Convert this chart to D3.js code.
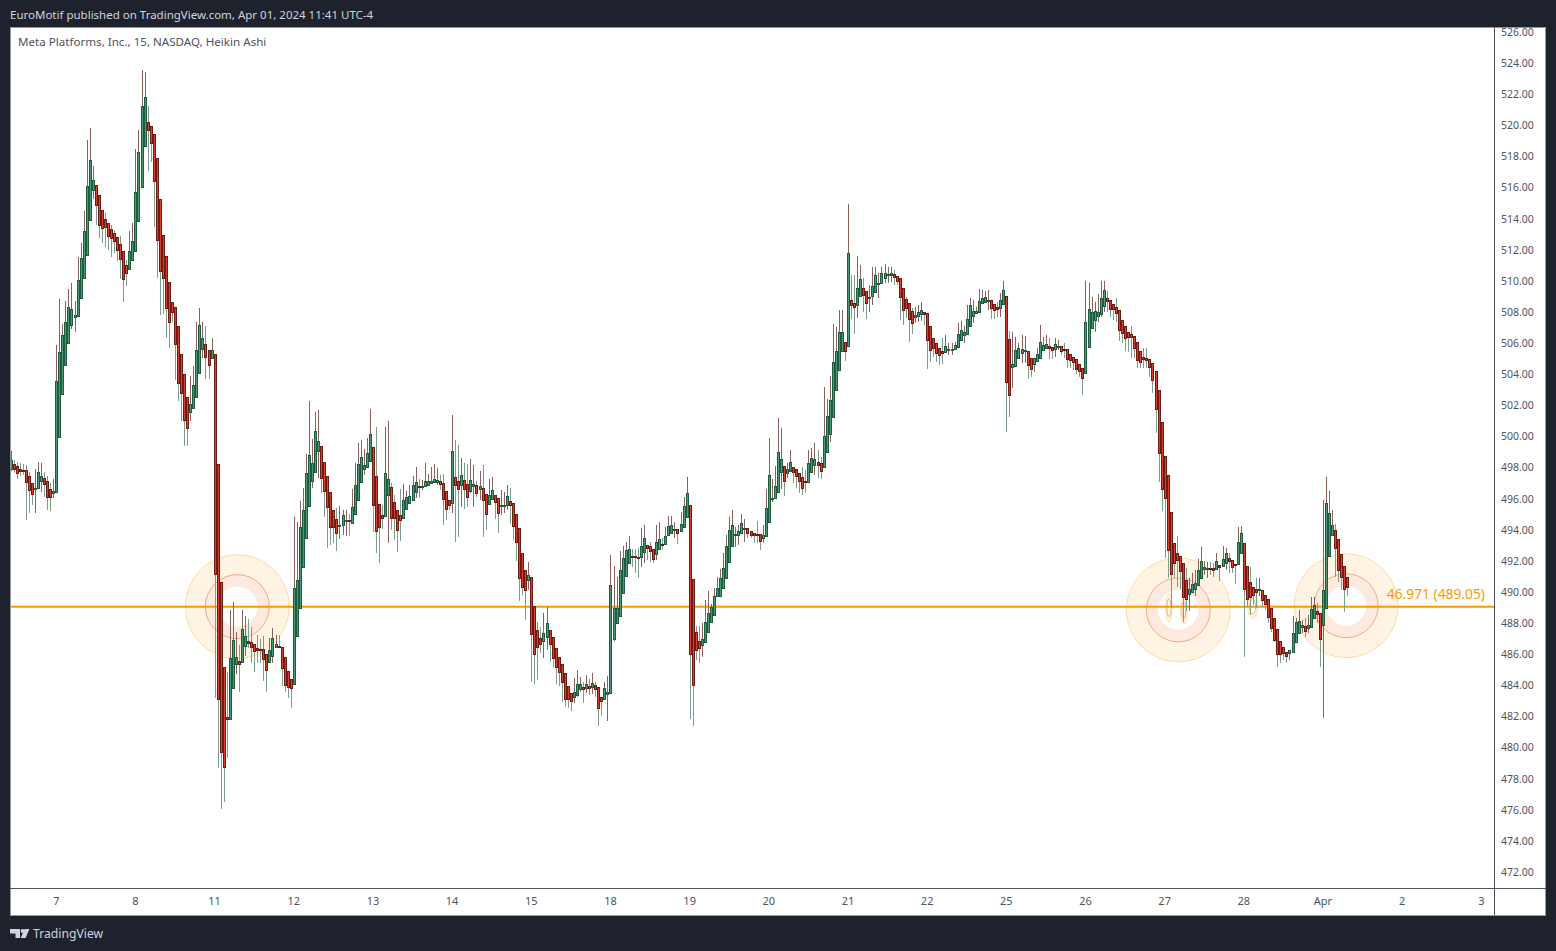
<!DOCTYPE html>
<html>
<head>
<meta charset="utf-8">
<script src="https://cdn.jsdelivr.net/npm/d3@7"></script>
<style>
html,body{margin:0;padding:0;background:#1e222d;overflow:hidden}
text{font-family:"Noto Sans",sans-serif}
</style>
</head>
<body>
<svg id="c" width="1556" height="951"></svg>
<script>
// each row: [open, close, high, low]
const mar06 = [[497.91,498.49,499.07,497.78],[498.23,497.91,498.49,497.66],[498.10,497.66,498.36,497.27],[497.91,497.78,498.30,497.46],[497.85,497.78,498.23,497.53],[497.85,497.08,498.17,494.63],[497.46,496.56,497.72,495.08],[497.01,496.31,497.01,495.60],[496.63,496.69,497.91,495.08],[496.69,497.72,498.36,496.69],[497.14,497.46,498.30,496.43],[497.33,496.95,497.72,496.11],[497.14,496.11,497.46,495.28],[496.63,496.11,497.01,495.21],[496.37,496.50,497.27,496.05]];
const mar07 = [[496.43,503.57,505.88,496.43],[499.97,505.43,508.84,499.97],[502.73,506.53,507.23,502.73],[504.60,507.36,508.71,504.60],[506.01,508.33,509.48,506.01],[507.17,508.20,509.87,506.91],[507.68,507.81,508.71,506.72],[507.75,510.06,511.54,507.75],[508.90,511.48,512.44,508.90],[510.19,513.21,514.50,510.19],[511.67,516.10,519.06,511.67],[513.92,517.77,519.83,513.92],[515.85,516.49,517.39,515.27],[516.17,514.88,516.17,513.60],[515.53,513.60,515.53,512.76],[514.56,513.40,514.56,512.44],[513.98,513.47,514.37,512.18],[513.73,512.89,513.73,511.99],[513.34,512.76,513.60,511.54],[513.08,512.57,513.27,511.79],[512.83,511.99,512.83,511.28],[512.38,511.41,512.89,510.13],[511.93,510.13,511.93,508.65],[511.03,510.51,511.35,509.68],[510.77,511.93,513.21,510.77],[511.35,512.57,513.73,511.35]];
const mar08 = [[511.93,515.72,518.48,511.93],[513.85,518.29,519.70,513.85],[516.04,521.25,523.56,516.04],[518.67,521.82,523.43,518.67],[520.22,519.70,521.25,517.07],[519.96,518.87,519.96,517.65],[519.45,516.43,519.45,513.47],[517.90,512.63,517.90,510.19],[515.27,510.64,515.27,507.81],[512.95,510.19,512.95,507.88],[511.60,508.26,511.60,506.33],[509.93,507.36,509.93,505.69],[508.65,508.00,508.65,507.36],[508.33,505.95,508.33,503.63],[507.10,503.44,507.10,502.28],[505.30,502.80,505.30,501.00],[504.02,501.06,504.02,499.39],[502.54,500.55,502.54,499.39],[501.58,502.09,503.89,501.00],[501.83,503.31,504.53,501.83],[502.54,505.56,507.36,502.54],[504.08,507.17,508.26,504.08],[505.63,506.33,507.36,505.05],[505.95,505.11,507.10,503.70],[505.56,504.60,505.56,503.70],[505.05,505.56,506.33,505.05]];
const mar11 = [[505.30,491.16,505.30,483.19],[498.23,483.13,498.23,478.69],[490.65,479.72,490.65,476.06],[485.18,478.76,485.18,476.51],[481.97,481.84,484.86,479.34],[481.84,485.76,488.85,481.84],[483.84,486.92,489.36,483.84],[485.38,485.83,487.43,484.74],[485.57,485.38,486.60,483.58],[485.51,487.63,488.85,485.51],[486.53,487.18,488.46,485.89],[486.85,486.73,488.27,486.41],[486.79,486.47,487.76,485.44],[486.66,486.21,486.66,484.86],[486.41,486.28,487.24,485.44],[486.34,486.28,486.98,485.44],[486.34,485.70,487.18,484.29],[486.02,484.99,486.02,483.58],[485.51,486.28,487.05,485.51],[485.89,487.05,487.69,485.44],[486.47,486.66,487.24,486.47],[486.53,486.47,487.24,486.47],[486.47,485.12,486.47,483.96],[485.83,484.03,485.83,483.58],[484.93,483.90,484.93,483.19],[484.41,483.84,484.41,482.55]];
const mar12 = [[484.09,490.26,494.83,484.09],[487.18,490.78,494.51,487.18],[488.98,494.18,495.86,488.98],[491.61,495.28,496.69,491.61],[493.48,497.66,498.88,493.48],[495.53,498.81,502.28,495.53],[497.14,498.30,499.84,496.69],[497.72,500.35,501.58,497.72],[499.07,499.71,501.71,497.33],[499.39,497.33,499.39,496.37],[498.36,496.50,498.36,494.83],[497.46,495.47,497.46,492.83],[496.43,494.18,496.43,493.03],[495.28,494.18,495.28,493.16],[494.70,493.80,495.41,492.64],[494.25,494.31,495.53,493.41],[494.31,494.96,495.28,493.67],[494.57,494.63,495.28,493.61],[494.63,494.57,495.02,493.61],[494.44,495.47,496.63,494.44],[495.02,496.88,498.30,495.02],[495.92,498.23,499.58,495.92],[497.08,498.68,499.78,497.08],[497.91,498.17,499.20,497.53],[498.04,498.94,499.90,498.04],[498.43,500.16,501.77,498.43]];
const mar13 = [[499.33,495.60,499.33,493.86],[497.46,493.93,500.61,492.51],[495.66,494.18,495.66,491.87],[494.96,494.76,495.60,494.06],[494.89,497.66,500.61,494.89],[496.24,497.27,501.00,493.16],[496.76,494.76,497.01,493.99],[495.79,494.76,496.24,493.35],[495.28,493.99,495.28,492.58],[494.96,494.63,496.63,493.28],[494.76,495.92,496.95,494.76],[495.34,496.11,496.50,495.34],[495.73,496.18,496.88,495.73],[495.92,496.88,497.46,495.92],[496.43,497.08,498.04,496.05],[496.82,496.76,497.27,496.05],[496.76,496.82,497.20,496.56],[496.82,497.14,498.30,496.82],[496.88,497.14,497.59,496.88],[497.01,497.14,498.04,497.01],[497.08,497.27,498.23,497.08],[497.08,497.20,497.98,496.88],[497.14,496.95,497.53,496.56],[497.01,495.98,497.59,494.31],[496.50,495.34,496.50,494.63],[495.92,495.60,495.92,495.28]];
const mar14 = [[495.73,499.07,501.38,495.08],[497.40,496.88,499.78,493.22],[497.14,496.63,499.46,493.54],[496.88,497.53,498.62,495.47],[497.21,496.63,498.30,495.34],[496.95,496.11,498.23,495.47],[496.50,497.21,498.55,496.37],[496.82,496.95,498.17,495.47],[496.88,496.37,497.14,496.11],[496.63,496.82,497.78,495.92],[496.69,495.92,498.17,493.54],[496.31,495.02,496.31,493.99],[495.66,496.24,497.27,495.66],[495.98,496.56,497.40,495.92],[496.24,495.79,496.24,494.70],[496.05,495.08,496.05,493.80],[495.53,495.60,496.56,494.96],[495.53,495.60,496.43,495.08],[495.60,496.18,496.88,495.28],[495.86,495.60,496.69,494.38],[495.73,494.25,495.73,493.35],[495.02,493.22,495.02,491.99],[494.12,490.91,494.12,489.43],[492.51,490.33,492.51,489.81],[491.42,490.14,491.42,488.21],[490.78,491.10,491.93,490.14]];
const mar15 = [[490.97,487.30,490.97,484.22],[489.10,486.02,489.10,484.09],[487.56,486.47,488.08,484.35],[487.05,486.66,487.76,486.08],[486.85,487.37,488.66,485.76],[487.11,488.01,489.04,486.28],[487.56,486.66,487.56,485.51],[487.11,485.76,487.11,485.18],[486.41,485.18,486.41,484.09],[485.83,484.86,485.83,483.96],[485.38,484.22,485.38,482.93],[484.80,483.13,484.80,482.62],[483.96,483.13,483.96,482.55],[483.51,483.00,483.51,482.36],[483.26,483.58,484.48,482.87],[483.39,484.09,484.99,483.26],[483.77,484.09,484.54,483.58],[483.90,483.77,484.22,482.87],[483.84,484.09,484.67,483.51],[483.96,483.84,484.41,483.39],[483.90,484.16,484.80,483.45],[484.03,483.77,484.22,483.26],[483.90,482.55,483.90,481.39],[483.26,483.00,483.26,482.03],[483.13,483.84,484.22,483.13],[483.45,483.58,484.61,481.71]];
const mar18 = [[483.51,490.46,492.38,483.51],[486.98,488.98,491.68,486.85],[488.01,488.98,490.97,488.01],[488.46,491.42,492.64,488.46],[489.94,492.19,492.96,489.94],[491.03,492.71,493.22,491.03],[491.87,492.77,493.61,491.87],[492.32,492.25,492.77,491.61],[492.32,492.25,492.77,491.23],[492.25,492.19,492.83,490.91],[492.25,492.96,494.12,491.61],[492.58,493.48,494.31,491.87],[493.03,492.83,493.03,492.06],[492.96,492.64,493.22,491.93],[492.77,492.13,492.77,491.87],[492.45,493.22,494.31,492.06],[492.77,493.41,494.50,492.77],[493.09,493.03,493.48,492.77],[493.09,493.61,494.18,493.09],[493.67,494.25,494.89,493.67],[493.80,494.31,494.89,493.80],[493.99,494.06,494.50,493.48],[494.06,493.80,494.06,493.09],[493.93,494.38,495.15,493.93],[494.18,495.53,496.11,494.18],[494.83,496.37,497.40,494.83]];
const mar19 = [[495.60,486.02,495.60,481.84],[490.84,484.03,490.84,481.39],[487.43,486.28,487.82,485.63],[486.85,486.41,487.82,485.44],[486.60,486.98,488.01,485.83],[486.79,488.08,489.49,486.79],[487.43,488.66,490.07,487.43],[488.08,489.04,489.23,488.08],[488.53,489.75,490.26,488.53],[489.75,490.26,490.97,489.75],[489.75,490.91,491.48,489.75],[490.26,491.55,492.51,490.26],[490.91,492.96,493.67,490.91],[491.93,493.99,494.83,491.93],[492.96,494.31,495.28,492.96],[493.67,493.73,494.18,492.90],[493.67,493.93,494.31,493.03],[493.80,494.44,495.02,493.80],[494.06,494.12,494.70,493.22],[494.12,493.80,494.12,493.48],[493.93,493.67,493.93,493.48],[493.80,493.67,493.80,493.16],[493.73,493.67,494.57,493.16],[493.73,493.28,493.73,492.71],[493.48,493.67,494.31,493.16],[493.61,495.41,496.63,493.61]];
const mar20 = [[494.50,497.53,499.90,494.50],[495.98,496.05,497.27,495.79],[496.05,496.82,498.10,496.05],[496.43,499.00,501.19,496.43],[497.72,498.55,500.55,496.63],[498.10,497.14,498.10,496.18],[497.66,497.91,498.30,497.33],[497.78,498.36,499.13,497.78],[498.04,497.72,498.04,497.01],[497.91,497.46,497.91,496.69],[497.66,497.14,497.66,496.37],[497.40,496.69,498.04,496.24],[497.14,497.08,497.85,496.37],[497.08,498.30,499.13,497.08],[497.72,498.62,499.26,497.72],[498.17,498.55,499.58,497.53],[498.36,498.17,499.13,497.33],[498.30,497.78,498.68,497.27],[498.04,500.03,503.18,498.04],[499.00,501.32,502.41,499.00],[500.16,502.35,503.89,499.65],[501.26,504.79,507.23,501.26],[502.99,505.50,507.04,502.99],[504.28,506.72,508.13,504.28],[505.50,506.72,508.13,505.50],[506.08,505.50,506.08,504.85]];
const mar21 = [[505.82,511.80,514.95,505.82],[508.78,508.45,510.38,507.55],[508.58,508.33,510.38,506.59],[508.45,509.55,511.60,507.62],[509.03,510.13,511.03,509.03],[509.55,509.10,510.19,508.00],[509.35,508.58,509.35,507.55],[508.90,508.97,509.74,508.00],[509.03,509.68,510.90,508.45],[509.29,510.38,510.90,509.29],[509.80,509.87,510.51,508.90],[509.87,510.51,510.90,509.87],[510.19,510.51,511.09,509.87],[510.38,510.45,510.90,509.87],[510.38,510.51,510.90,509.93],[510.45,510.26,510.70,509.74],[510.32,510.00,510.32,509.74],[510.19,508.97,510.19,507.49],[509.55,508.13,509.55,507.17],[508.84,508.26,508.97,507.62],[508.58,507.55,508.58,506.08],[508.07,507.30,508.26,506.59],[507.68,507.81,508.33,507.30],[507.75,508.00,508.45,507.36],[507.88,508.13,508.65,507.43],[508.00,507.88,508.00,507.17]];
const mar22 = [[507.94,506.20,507.94,504.34],[507.10,505.56,507.10,504.79],[506.33,505.69,506.33,505.11],[506.01,505.37,506.01,504.79],[505.69,505.24,505.69,504.60],[505.50,505.37,506.33,504.66],[505.43,505.82,506.53,505.43],[505.56,505.63,506.01,505.24],[505.56,505.63,506.01,505.24],[505.63,505.88,506.08,505.63],[505.75,506.59,507.30,505.75],[506.20,506.85,507.43,506.20],[506.53,506.72,507.10,506.01],[506.59,507.55,508.45,506.59],[507.10,508.45,508.90,507.10],[507.75,508.07,508.78,507.30],[507.94,508.07,508.33,507.88],[508.00,508.71,509.48,508.00],[508.58,508.90,509.42,508.58],[508.65,508.97,509.35,508.65],[508.71,508.78,509.42,508.13],[508.78,508.26,508.78,507.55],[508.52,508.13,508.52,507.55],[508.33,508.20,508.65,507.68],[508.26,508.78,509.22,507.68],[508.52,509.42,510.00,508.52]];
const mar25 = [[509.03,503.50,509.03,500.29],[506.27,502.67,506.78,501.25],[504.47,504.66,506.72,503.12],[504.53,505.56,506.40,504.53],[505.05,505.69,506.01,505.05],[505.37,505.63,506.53,504.73],[505.50,505.56,506.46,504.73],[505.50,504.60,505.50,503.70],[505.05,504.34,505.05,503.83],[504.66,505.05,505.05,504.15],[504.85,505.30,505.69,504.85],[505.05,506.08,507.17,505.05],[505.56,505.88,506.40,505.56],[505.69,505.95,506.53,505.69],[505.82,505.69,506.33,504.98],[505.75,505.56,505.75,504.98],[505.63,505.95,506.33,505.11],[505.75,505.82,506.20,505.56],[505.82,505.50,505.82,505.24],[505.63,505.56,506.01,505.05],[505.63,504.98,505.63,504.40],[505.30,504.92,505.30,504.40],[505.11,504.79,505.11,504.27],[504.98,504.34,504.98,504.02],[504.66,504.21,504.66,503.83],[504.40,503.76,504.40,502.67]];
const mar26 = [[504.08,507.36,510.00,504.08],[505.76,508.20,509.87,505.76],[506.98,508.00,508.97,506.98],[507.49,508.07,508.65,506.72],[507.75,508.00,509.16,507.36],[507.88,508.90,510.00,507.68],[508.39,509.42,510.00,508.00],[508.90,508.71,509.35,508.00],[508.78,508.20,508.78,507.68],[508.52,508.20,508.52,507.49],[508.33,507.94,508.90,507.36],[508.13,506.85,508.13,506.14],[507.49,506.65,507.49,506.01],[507.10,506.33,507.10,505.50],[506.72,506.40,506.72,505.43],[506.59,506.40,507.10,505.05],[506.46,505.69,506.46,505.05],[506.08,504.92,506.08,504.40],[505.50,504.79,505.50,504.40],[505.11,504.98,505.69,504.40],[505.05,504.92,505.69,504.40],[504.98,504.47,504.98,503.83],[504.72,503.63,504.72,502.80],[504.21,501.77,504.21,500.23],[502.99,498.94,502.99,497.08],[500.93,496.63,500.93,495.21]];
const mar27 = [[498.75,496.05,498.75,492.19],[497.53,492.71,497.53,490.91],[495.15,491.16,495.15,488.98],[493.16,491.87,493.16,490.91],[492.51,492.06,493.61,490.33],[492.32,491.35,492.32,490.20],[491.87,489.69,491.87,488.08],[490.78,489.56,491.55,488.77],[489.88,490.20,490.91,488.79],[490.01,490.52,491.23,490.01],[490.20,490.58,491.42,489.75],[490.46,491.42,492.13,490.46],[490.91,491.99,492.90,490.91],[491.48,491.61,491.99,491.10],[491.48,491.55,491.93,490.91],[491.55,491.48,491.93,491.10],[491.55,491.42,491.87,490.97],[491.48,491.99,492.51,491.48],[491.74,491.61,491.74,490.71],[491.68,492.13,492.96,491.68],[491.87,492.51,492.83,491.42],[492.19,491.99,492.51,491.23],[492.06,491.61,492.06,491.23],[491.80,491.74,491.80,490.52],[491.80,493.22,494.18,491.80],[492.51,493.80,494.25,492.51]];
const mar28 = [[493.16,490.20,493.16,485.83],[491.68,489.56,491.68,489.04],[490.65,489.69,491.61,488.53],[490.33,489.81,490.33,489.17],[490.20,490.01,490.91,488.98],[490.13,490.20,490.91,489.75],[490.13,489.49,490.13,489.04],[489.81,489.23,489.81,488.85],[489.56,488.40,489.56,488.01],[488.98,487.69,488.98,487.43],[488.33,486.92,488.33,486.79],[487.63,486.02,487.63,485.18],[486.85,486.02,486.85,485.44],[486.47,486.08,486.47,485.63],[486.15,485.89,486.15,485.44],[486.08,486.28,486.28,485.63],[486.15,487.37,488.46,486.15],[486.79,488.08,488.33,486.79],[487.37,488.14,488.85,487.37],[487.76,487.88,488.21,487.37],[487.82,487.50,488.33,487.11],[487.69,487.88,488.53,487.37],[487.76,488.91,489.68,487.76],[488.33,489.17,489.68,488.33],[488.78,488.59,489.30,488.01],[488.66,486.98,488.66,485.18]];
const apr01 = [[487.88,490.13,495.92,481.91],[488.98,495.73,497.40,488.98],[492.32,495.08,496.50,492.32],[493.67,494.31,495.28,493.67],[493.99,492.83,494.38,490.97],[493.41,491.42,493.41,490.65],[492.45,490.97,492.45,490.14],[491.68,490.20,491.68,488.72],[490.97,490.33,490.97,489.75]];

const dayLabels = ["7","8","11","12","13","14","15","18","19","20","21","22","25","26","27","28","Apr","2","3"];
const dayBarIndex = [15,41,67,93,119,145,171,197,223,249,275,301,327,353,379,405,431,457,483];
const priceTicks = [472,474,476,478,480,482,484,486,488,490,492,494,496,498,500,502,504,506,508,510,512,514,516,518,520,522,524,526];
const levelPrice = 489.05;
const levelText = "46.971 (489.05)";
const headerText = "EuroMotif published on TradingView.com, Apr 01, 2024 11:41 UTC-4";
const titleText = "Meta Platforms, Inc., 15, NASDAQ, Heikin Ashi";
// annotation anchors: bar position, price
const bigRings = [[74.45,489.06],[383.5,488.85],[438.6,489.12]];
const smallRings = [[380.4,488.99,3.3,14],[385.3,488.85,3.3,14],[407.9,489.06,5,12]];

const bars = [].concat(mar06,mar07,mar08,mar11,mar12,mar13,mar14,mar15,mar18,mar19,mar20,mar21,mar22,mar25,mar26,mar27,mar28,apr01)
  .map((r,i)=>({i,o:r[0],c:r[1],h:r[2],l:r[3]}));

const svg = d3.select("#c");
const L=10,T=27,R=1546,B=916,PR=1494.5,PB=888.5;
const x = d3.scaleLinear().domain([0,493]).range([10.6,10.6+3.045*493]);
const y = d3.scaleLinear().domain([472,526]).range([872,32]);
const snap = v=>Math.round(v)+0.5;

svg.append("rect").attr("x",L+.5).attr("y",T+.5).attr("width",R-L-1).attr("height",B-T-1)
  .attr("fill","#fff").attr("stroke","#9598a1");
svg.append("text").attr("x",10).attr("y",19).attr("fill","#d1d4dc").attr("font-size",11.5).text(headerText);

const defs = svg.append("defs");
defs.append("clipPath").attr("id","plot").append("rect")
  .attr("x",L+1).attr("y",T+1).attr("width",PR-L-1).attr("height",PB-T-1);
const plot = svg.append("g").attr("clip-path","url(#plot)");

// rings
const fullArc = (a,b)=>d3.arc().innerRadius(a).outerRadius(b).startAngle(0).endAngle(2*Math.PI)();
const ring = plot.append("g").selectAll("g").data(bigRings).join("g")
  .attr("transform",d=>`translate(${x(d[0])},${y(d[1])})`);
ring.append("path").attr("fill","#ff9800").attr("fill-opacity",.11).attr("d",fullArc(32,52));
ring.append("path").attr("fill","#f57c3c").attr("fill-opacity",.17).attr("d",fullArc(20,32));
ring.append("circle").attr("r",52).attr("fill","none").attr("stroke","#ff9800").attr("stroke-opacity",.3);
ring.append("circle").attr("r",32).attr("fill","none").attr("stroke","#ee7b45").attr("stroke-opacity",.6);
const sm = plot.append("g").selectAll("g").data(smallRings).join("g")
  .attr("transform",d=>`translate(${x(d[0])},${y(d[1])})`);
sm.append("ellipse").attr("rx",d=>d[2]).attr("ry",d=>d[3]).attr("fill","#ff9800").attr("fill-opacity",.11).attr("stroke","#ff9800").attr("stroke-opacity",.3);
sm.append("ellipse").attr("rx",d=>d[2]*.6).attr("ry",d=>d[3]*.62).attr("fill","#fff").attr("stroke","#ee7b45").attr("stroke-opacity",.6);

// level line
plot.append("line").attr("x1",L).attr("x2",PR).attr("y1",y(levelPrice)).attr("y2",y(levelPrice))
  .attr("stroke","#ff9800").attr("stroke-width",2);

// wicks
const up = d=>d.c>=d.o;
plot.append("g").selectAll("line").data(bars).join("line")
  .attr("x1",d=>snap(x(d.i))).attr("x2",d=>snap(x(d.i)))
  .attr("y1",d=>y(d.h)).attr("y2",d=>y(d.l))
  .attr("stroke",d=>up(d)?"#8f5f5b":"#7a9d8c").attr("stroke-width",1);
// bodies
plot.append("g").selectAll("rect").data(bars).join("rect")
  .attr("x",d=>snap(x(d.i))-1).attr("width",2)
  .attr("y",d=>snap(y(Math.max(d.o,d.c))))
  .attr("height",d=>Math.max(0,snap(y(Math.min(d.o,d.c)))-snap(y(Math.max(d.o,d.c)))))
  .attr("fill",d=>up(d)?"#4c9a74":"#d8412f")
  .attr("stroke",d=>up(d)?"#1f5b3f":"#6f1a12").attr("stroke-width",1);

// level label
svg.append("text").attr("x",1485).attr("y",599).attr("text-anchor","end").attr("fill","#ff9800")
  .attr("font-size",13.8).text(levelText);
// title
svg.append("text").attr("x",18).attr("y",46).attr("font-size",11.6).attr("fill","#50535e").text(titleText);

// dividers
svg.append("line").attr("x1",PR).attr("x2",PR).attr("y1",T).attr("y2",B-1).attr("stroke","#50535e");
svg.append("line").attr("x1",L).attr("x2",R).attr("y1",PB).attr("y2",PB).attr("stroke","#50535e");

// axes
const ya = d3.axisRight(y).tickValues(priceTicks).tickFormat(d3.format(".2f")).tickSize(0).tickPadding(0);
const yg = svg.append("g").attr("transform",`translate(1501,0)`).call(ya);
yg.select(".domain").remove();
yg.selectAll("text").attr("font-size",10.5).attr("fill","#50535e").attr("font-family",'"Noto Sans",sans-serif').attr("dy","0.32em");
const xa = d3.axisBottom(x).tickValues(dayBarIndex).tickFormat((d,i)=>dayLabels[i]).tickSize(0).tickPadding(0);
const xg = svg.append("g").attr("transform",`translate(-0.5,897)`).call(xa);
xg.select(".domain").remove();
xg.selectAll("text").attr("font-size",11).attr("fill","#50535e").attr("font-family",'"Noto Sans",sans-serif').attr("dy","0.71em");

// footer logo
const logo = svg.append("g").attr("fill","#d1d4dc");
logo.append("path").attr("d","M10 929H20V938H15.5V933.4H10Z");
logo.append("circle").attr("cx",22.6).attr("cy",931).attr("r",2);
logo.append("path").attr("d","M24.6 929H29.5L25.6 938H20.6Z");
svg.append("text").attr("x",33).attr("y",938).attr("fill","#d1d4dc").attr("font-size",12.2).text("TradingView");
</script>
</body>
</html>
